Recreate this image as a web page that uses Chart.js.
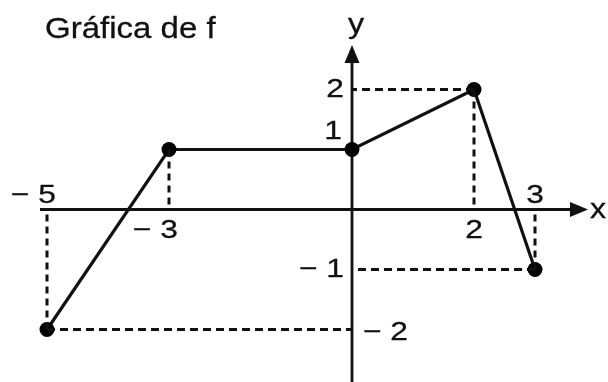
<!DOCTYPE html>
<html>
<head>
<meta charset="utf-8">
<script src="https://cdn.jsdelivr.net/npm/chart.js@4"></script>
<style>
  body { margin: 0; background: #fff; }
  #wrap { width: 608px; height: 382px; position: relative; }
</style>
</head>
<body>
<div id="wrap"><canvas id="graph"></canvas></div>
<script>
// points of f
const fx = [-5, -3, 0, 2, 3];
const fy = [-2, 1, 1, 2, -1];

// which points get dashed guides
const vGuides = [0, 1, 3, 4];   // down/up to the x axis
const hGuides = [0, 3, 4];      // across to the y axis

// tick labels
const xTickVals = [-5, -3, 2, 3];
const xTickText = ['− 5', '− 3', '2', '3'];
const yTickVals = [2, 1, -1, -2];
const yTickText = ['2', '1', '− 1', '− 2'];

const title = 'Gráfica de f';
const FONT = '"Liberation Sans", Arial, sans-serif';
const STRETCH = 1.22;   // the scanned text is a bit wide

const datasets = [];
vGuides.forEach(i => {
  datasets.push({
    data: [{ x: fx[i], y: fy[i] }, { x: fx[i], y: 0 }],
    borderColor: '#111', borderWidth: 3, borderDash: [7, 5],
    pointRadius: 0, showLine: true
  });
});
hGuides.forEach(i => {
  datasets.push({
    data: [{ x: fx[i], y: fy[i] }, { x: 0, y: fy[i] }],
    borderColor: '#111', borderWidth: 3, borderDash: [8, 5],
    pointRadius: 0, showLine: true
  });
});
datasets.push({
  data: fx.map((x, i) => ({ x: x, y: fy[i] })),
  borderColor: '#111', borderWidth: 3.2,
  pointRadius: 7.5, pointBackgroundColor: '#000', pointBorderWidth: 0,
  showLine: true
});

// draw text stretched horizontally, anchored at (x, y)
function wideText(ctx, text, x, y, align, sx) {
  const w = ctx.measureText(text).width * sx;
  let left = x;
  if (align === 'right') left = x - w;
  else if (align === 'center') left = x - w / 2;
  ctx.save();
  ctx.translate(left, y);
  ctx.scale(sx, 1);
  ctx.textAlign = 'left';
  ctx.fillText(text, 0, 0);
  ctx.strokeText(text, 0, 0);   // scan is a little heavier than plain text
  ctx.restore();
}

// axes, arrows and text
const axesPlugin = {
  id: 'axes',
  beforeDatasetsDraw(chart) {
    const { ctx } = chart;
    const xs = chart.scales.x, ys = chart.scales.y;
    const x0 = xs.getPixelForValue(0), y0 = ys.getPixelForValue(0);
    const xEnd = 588, yEnd = 45;
    ctx.save();
    ctx.strokeStyle = '#111';
    ctx.fillStyle = '#111';
    ctx.lineWidth = 2.8;
    ctx.beginPath();
    ctx.moveTo(40, y0);
    ctx.lineTo(xEnd - 10, y0);
    ctx.moveTo(x0, chart.height);
    ctx.lineTo(x0, yEnd + 10);
    ctx.stroke();
    // arrow heads
    ctx.beginPath();
    ctx.moveTo(xEnd, y0);
    ctx.lineTo(xEnd - 18, y0 - 7.5);
    ctx.lineTo(xEnd - 18, y0 + 7.5);
    ctx.closePath();
    ctx.fill();
    ctx.beginPath();
    ctx.moveTo(x0, yEnd);
    ctx.lineTo(x0 - 7.5, yEnd + 18);
    ctx.lineTo(x0 + 7.5, yEnd + 18);
    ctx.closePath();
    ctx.fill();
    ctx.restore();
  },
  afterDraw(chart) {
    const { ctx } = chart;
    const xs = chart.scales.x, ys = chart.scales.y;
    const x0 = xs.getPixelForValue(0), y0 = ys.getPixelForValue(0);
    ctx.save();
    ctx.fillStyle = '#111';
    ctx.strokeStyle = '#111';
    ctx.lineWidth = 0.3;
    ctx.font = '30px ' + FONT;
    ctx.textBaseline = 'alphabetic';
    wideText(ctx, title, 45, 38, 'left', 1.1);

    ctx.font = '26px ' + FONT;
    const dw = ctx.measureText('0').width * STRETCH;
    xTickVals.forEach((v, i) => {
      const px = xs.getPixelForValue(v) + dw / 2;
      // label on the side away from the point's guide
      const idx = fx.indexOf(v);
      const above = idx >= 0 && fy[idx] < 0;
      ctx.textBaseline = above ? 'alphabetic' : 'top';
      wideText(ctx, xTickText[i], px, above ? y0 - 7 : y0 + 8, 'right', STRETCH);
    });
    ctx.textBaseline = 'middle';
    yTickVals.forEach((v, i) => {
      const py = ys.getPixelForValue(v);
      if (v === 1) {
        wideText(ctx, yTickText[i], x0 - 10, py - 18, 'right', STRETCH);
      } else if (v === -2) {
        wideText(ctx, yTickText[i], x0 + 11, py + 3, 'left', STRETCH);
      } else {
        wideText(ctx, yTickText[i], x0 - 8, py, 'right', STRETCH);
      }
    });
    ctx.font = '28px ' + FONT;
    wideText(ctx, 'x', 598, y0 + 1, 'center', 1.15);
    ctx.textBaseline = 'alphabetic';
    wideText(ctx, 'y', x0 + 4, 33, 'center', 1.15);
    ctx.restore();
  }
};

new Chart(document.getElementById('graph'), {
  type: 'scatter',
  data: { datasets: datasets },
  options: {
    responsive: true,
    maintainAspectRatio: false,
    animation: false,
    layout: { padding: 0, autoPadding: false },
    clip: false,
    plugins: { legend: { display: false }, tooltip: { enabled: false } },
    scales: {
      x: { type: 'linear', min: -352 / 61, max: 256 / 61, display: false },
      y: { type: 'linear', min: -172.5 / 60, max: 209.5 / 60, display: false }
    }
  },
  plugins: [axesPlugin]
});
</script>
</body>
</html>
